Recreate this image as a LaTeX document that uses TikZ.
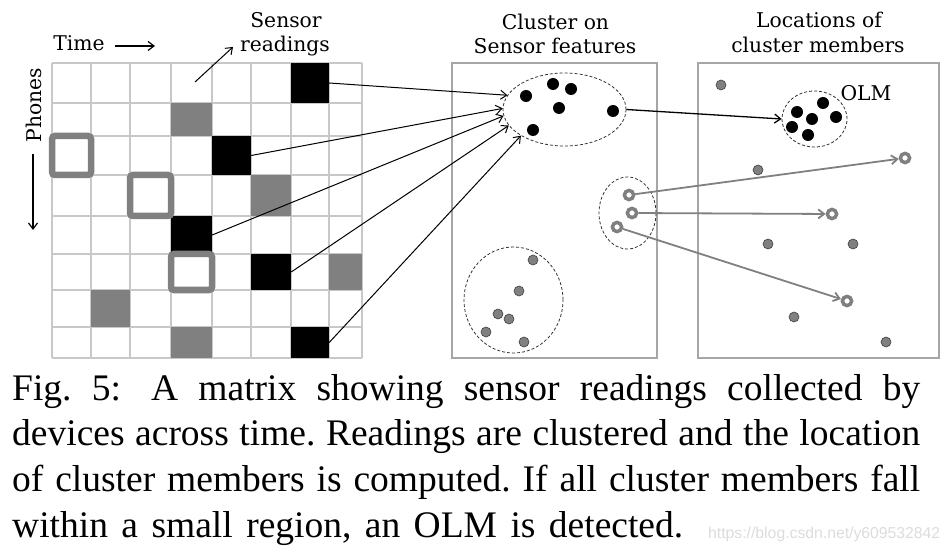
\documentclass[tikz,border=0pt]{standalone}
\usepackage{fontspec}
\setmainfont{Liberation Serif}
\newfontfamily\lblfont{DejaVu Serif}
\newfontfamily\wmfont{Liberation Sans}
\usetikzlibrary{arrows.meta,shapes.geometric,fit}
\definecolor{cellgray}{HTML}{808080}
\definecolor{gridgray}{HTML}{C8C8C8}
\definecolor{panelgray}{HTML}{A6A6A6}
\definecolor{dotedge}{HTML}{404040}
\definecolor{wmgray}{HTML}{DCDCDC}
\begin{document}
\begin{tikzpicture}[x=1pt,y=-1pt,
  lbl/.style={font=\lblfont\fontsize{20.3}{24}\selectfont, inner sep=0, anchor=base},
  captext/.style={font=\fontsize{37.5}{45}\selectfont\frenchspacing, inner sep=0, anchor=base west},
  gridline/.style={draw=gridgray, line width=1.2pt},
  blkcell/.style={fill=black, inner sep=0, draw=none},
  grycell/.style={fill=cellgray, inner sep=0, draw=none},
  ring/.style={draw=cellgray, line width=6.5pt, rounded corners=3pt, inner sep=0},
  panel/.style={draw=panelgray, line width=1.2pt, inner sep=0},
  clus/.style={ellipse, draw=black!80, line width=0.8pt, dash pattern=on 3pt off 2pt, inner sep=0},
  bdot/.style={circle, fill=black, inner sep=0, minimum size=12pt},
  gdot/.style={circle, fill=cellgray, draw=dotedge, line width=0.6pt, inner sep=0, minimum size=10pt},
  hollow/.style={circle, draw=cellgray, fill=white, line width=3.5pt, inner sep=0, minimum size=9.2pt},
  link/.style={-{Straight Barb[length=6pt,width=9pt]}, line width=1pt},
  glink/.style={draw=cellgray, -{Straight Barb[length=6pt,width=9pt]}, line width=1.8pt},
]
\useasboundingbox (0,0) rectangle (950,553);

% grid
\foreach \x in {52,91,130,171,212,251,291,329,362} \draw[gridline] (\x,63) -- (\x,358);
\foreach \y in {63,103,136,175,216,254,290,327,358} \draw[gridline] (52,\y) -- (362,\y);

% cells
\node[blkcell, fit={(291,63) (329,103)}] (b0) {};
\node[blkcell, fit={(212,136) (251,175)}] (b2) {};
\node[blkcell, fit={(171,216) (212,254)}] (b4) {};
\node[blkcell, fit={(251,254) (291,290)}] (b5) {};
\node[blkcell, fit={(291,327) (329,358)}] (b7) {};
\node[grycell, fit={(171,103) (212,136)}] (g1) {};
\node[grycell, fit={(251,175) (291,216)}] (g3) {};
\node[grycell, fit={(329,254) (362,290)}] (g5) {};
\node[grycell, fit={(91,290) (130,327)}] (g6) {};
\node[grycell, fit={(171,327) (212,358)}] (g7) {};
\node[ring, fit={(52,136) (91,175)}] (o2) {};
\node[ring, fit={(130,175) (171,216)}] (o3) {};
\node[ring, fit={(171,254) (212,290)}] (o5) {};

% panels
\node[panel, fit={(452,63) (657,358)}] (pm) {};
\node[panel, fit={(698,63) (939,358)}] (pr) {};

% clusters
\node[clus, minimum width=123pt, minimum height=73pt] (e1) at (564.5,109.5) {};
\node[clus, minimum width=57pt, minimum height=72pt] (e2) at (627.5,213) {};
\node[clus, minimum width=99pt, minimum height=106pt] (e3) at (513.5,300) {};
\node[clus, minimum width=65pt, minimum height=56pt] (olm) at (814.5,119) {};

% dots in middle panel
\node[bdot] (m1) at (526,96) {};
\node[bdot] (m2) at (553,84) {};
\node[bdot] (m3) at (571,89) {};
\node[bdot] (m4) at (559,108) {};
\node[bdot] (m5) at (613,111) {};
\node[bdot] (m6) at (533,130) {};
\node[hollow] (h1) at (629,195) {};
\node[hollow] (h2) at (632,213) {};
\node[hollow] (h3) at (617,227) {};
\node[gdot] (n1) at (533,260) {};
\node[gdot] (n2) at (519,291) {};
\node[gdot] (n3) at (498,314) {};
\node[gdot] (n4) at (509,319) {};
\node[gdot] (n5) at (486,332) {};
\node[gdot] (n6) at (524,342) {};

% dots in right panel
\node[bdot] (k1) at (823,103) {};
\node[bdot] (k2) at (797,112) {};
\node[bdot] (k3) at (812,119) {};
\node[bdot] (k4) at (836,117) {};
\node[bdot] (k5) at (792,127) {};
\node[bdot] (k6) at (808,135) {};
\node[gdot] (q1) at (721,85) {};
\node[gdot] (q2) at (758,170) {};
\node[gdot] (q3) at (768,244) {};
\node[gdot] (q4) at (853,244) {};
\node[gdot] (q5) at (794,317) {};
\node[gdot] (q6) at (886,342) {};
\node[hollow] (r1) at (905,158) {};
\node[hollow] (r2) at (832,214) {};
\node[hollow] (r3) at (847,301) {};

% connectors
\draw[link] (b0.east) -- (e1.166);
\draw[link] (b2.east) -- (e1.179);
\draw[link] (b4.east) -- (e1.186);
\draw[link] (b5.east) -- (e1.196);
\draw[link] (b7.east) -- (e1.211);
\draw[link, line width=1.3pt] (e1.east) -- (olm.west);
\draw[glink] (h1) -- (r1);
\draw[glink] (h2) -- (r2);
\draw[glink] (h3) -- (r3);

% labels
\node[lbl] (tm) at (79,51) {Time};
\coordinate (ta) at (115,46);
\coordinate (tb) at (155,46);
\draw[link, line width=1.2pt] (ta) -- (tb);
\node[lbl, rotate=90] (ph) at (41.5,105) {Phones};
\coordinate (pa) at (33,154);
\coordinate (pb) at (33,230);
\draw[link, line width=1.2pt] (pa) -- (pb);
\node[lbl] (sr1) at (286,28) {Sensor};
\node[lbl] (sr2) at (285,52) {readings};
\coordinate (sa) at (195,82);
\coordinate (sb) at (233,47);
\draw[link] (sa) -- (sb);
\node[lbl] (c1) at (555.5,29.5) {Cluster on};
\node[lbl] (c2) at (555,53.5) {Sensor features};
\node[lbl] (l1) at (819,28) {Locations of};
\node[lbl] (l2) at (818,53) {cluster members};
\node[lbl] (olmt) at (866,101) {OLM};

% caption
\node[captext] (cap1) at (12,400) {\makebox[908pt][s]{Fig.~5:\hspace{10pt} A matrix showing sensor readings collected by}};
\node[captext] (cap2) at (12,445.7) {\makebox[908pt][s]{devices across time. Readings are clustered and the location}};
\node[captext] (cap3) at (12,491.3) {\makebox[908pt][s]{of cluster members is computed. If all cluster members fall}};
\node[captext] (cap4) at (12,537) {\makebox[671pt][s]{within a small region, an OLM is detected.}};
\node[anchor=base west, inner sep=0, font=\wmfont\fontsize{15.75}{18}\selectfont, text=wmgray] (wm) at (708,538) {https://blog.csdn.net/y609532842};
\end{tikzpicture}
\end{document}
